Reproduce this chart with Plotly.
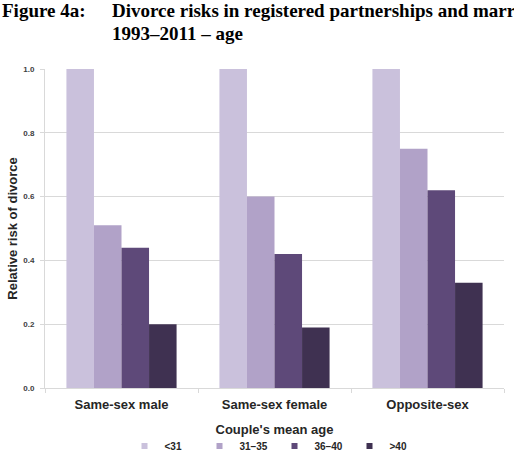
import plotly.graph_objects as go

categories = ["Same-sex male", "Same-sex female", "Opposite-sex"]
age_groups = ["<31", "31–35", "36–40", ">40"]
values = {
    "<31": [1.00, 1.00, 1.00],
    "31–35": [0.51, 0.60, 0.75],
    "36–40": [0.44, 0.42, 0.62],
    ">40": [0.20, 0.19, 0.33],
}
colors = ["#CAC1DC", "#B1A2C8", "#5E4979", "#3F3151"]
y_ticks = [0.0, 0.2, 0.4, 0.6, 0.8, 1.0]
y_tick_labels = ["0.0", "0.2", "0.4", "0.6", "0.8", "1.0"]

W, H = 514, 460
ML, MR, MT, MB = 45, 10, 69, 72
PW, PH = W - ML - MR, H - MT - MB

def px_x(x):
    return (x - ML) / PW

def px_y(y):
    return (H - MB - y) / PH

fig = go.Figure()
for g, c in zip(age_groups, colors):
    fig.add_trace(go.Bar(x=categories, y=values[g], name=g, marker_color=c,
                         marker_line_width=0, showlegend=False))
for g, c in zip(age_groups, colors):
    fig.add_trace(go.Scatter(x=[None], y=[None], mode="markers", name=g,
                             marker=dict(symbol="square", size=6, color=c)))

sans = "Arial, Liberation Sans, sans-serif"
serif = "Times New Roman, Liberation Serif, serif"

fig.update_layout(
    width=W, height=H,
    margin=dict(l=ML, r=MR, t=MT, b=MB, autoexpand=False),
    paper_bgcolor="white", plot_bgcolor="white",
    barmode="group", bargap=0.28, bargroupgap=0,
    font=dict(family=sans, color="#262626"),
    xaxis=dict(
        type="category", showgrid=False, showline=True, linecolor="#D9D9D9",
        linewidth=1, ticks="outside", tickson="boundaries", ticklen=4,
        tickcolor="#D9D9D9", automargin=False, ticklabelstandoff=4,
        tickfont=dict(family=sans, size=13, weight="bold", color="#262626"),
        title=dict(text="Couple's mean age", standoff=14,
                   font=dict(family=sans, size=13, weight="bold", color="#262626")),
    ),
    yaxis=dict(
        range=[0, 1.0], tickvals=y_ticks, ticktext=y_tick_labels,
        showgrid=True, gridcolor="#D9D9D9", gridwidth=1,
        showline=True, linecolor="#D9D9D9", linewidth=1, automargin=False,
        ticks="outside", ticklen=4, tickcolor="#D9D9D9", ticklabelstandoff=4,
        tickfont=dict(family=sans, size=8, weight="bold", color="#404040"),
        title=dict(text="Relative risk of divorce", standoff=2,
                   font=dict(family=sans, size=13, weight="bold", color="#262626")),
        zeroline=False,
    ),
    legend=dict(
        orientation="h", x=0.5, xanchor="center", y=px_y(446), yanchor="middle",
        font=dict(family=sans, size=10, weight="bold", color="#262626"),
        entrywidth=30, entrywidthmode="pixels", itemwidth=30,
        bgcolor="rgba(0,0,0,0)",
    ),
    annotations=[
        dict(text="Figure 4a:", x=px_x(0), y=px_y(11), xref="paper", yref="paper",
             xanchor="left", yanchor="middle", showarrow=False,
             font=dict(family=serif, size=19, weight="bold", color="black")),
        dict(text="Divorce risks in registered partnerships and marriages,", x=px_x(110), y=px_y(11),
             xref="paper", yref="paper", xanchor="left", yanchor="middle", showarrow=False,
             font=dict(family=serif, size=19, weight="bold", color="black")),
        dict(text="1993–2011 – age", x=px_x(110), y=px_y(33), xref="paper", yref="paper",
             xanchor="left", yanchor="middle", showarrow=False,
             font=dict(family=serif, size=19, weight="bold", color="black")),
    ],
)

fig.write_html("out.html")
